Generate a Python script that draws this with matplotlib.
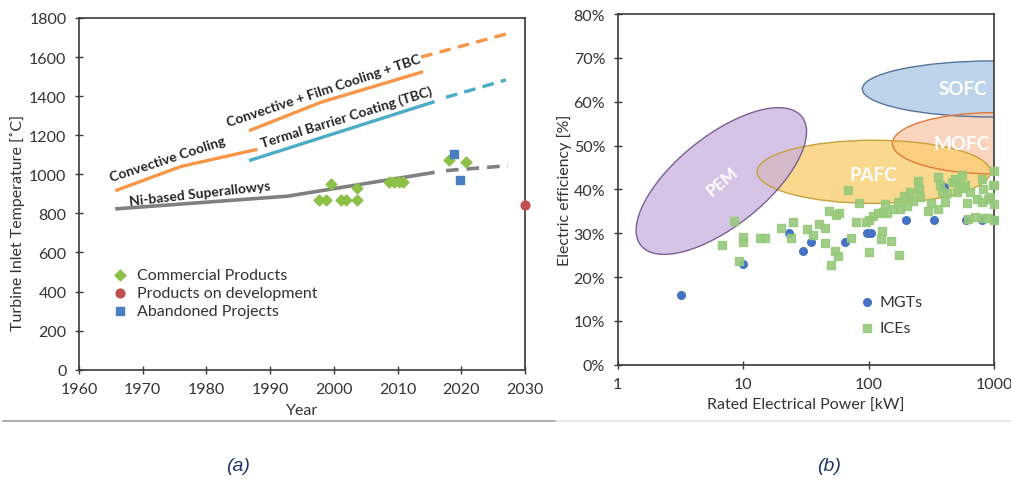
import numpy as np
import matplotlib
matplotlib.use("Agg")
import matplotlib.pyplot as plt
from matplotlib.patches import Ellipse
from matplotlib.lines import Line2D

plt.rcParams['font.family'] = ['Lato', 'DejaVu Sans']

# --- (a) turbine inlet temperature trends ---
conv_year = [1965.7, 1976, 1988]
conv_temp = [916, 1040, 1128]
film_year = [1986.7, 1998, 2014]
film_temp = [1223, 1369, 1525]
film_fut_year = [2013.7, 2027]
film_fut_temp = [1600, 1718]
tbc_year = [1986.7, 2015.8]
tbc_temp = [1070, 1372]
tbc_fut_year = [2017.6, 2027]
tbc_fut_temp = [1394, 1483]
ni_year = [1965.7, 1992.7, 2015.8]
ni_temp = [823, 888, 1010]
ni_fut_year = [2017.6, 2027.3]
ni_fut_temp = [1019, 1044]

comm_year = [1997.7, 1998.7, 1999.5, 2001.1, 2001.9, 2003.7, 2003.7,
             2008.7, 2009.5, 2010.3, 2010.8, 2018.0, 2020.8]
comm_temp = [870, 870, 951, 870, 870, 928, 870,
             959, 959, 959, 959, 1073, 1065]
dev_year = [2030]
dev_temp = [843]
aband_year = [2018.8, 2019.8]
aband_temp = [1104, 973]

# --- (b) efficiency vs rated power ---
mgt_kw = [3.2, 10, 23, 30, 35, 65, 98, 105, 200, 330, 400, 600, 800, 1000]
mgt_eff = [0.16, 0.23, 0.30, 0.26, 0.28, 0.28, 0.30, 0.30, 0.33, 0.33, 0.405,
           0.33, 0.33, 0.33]
ice_kw = [6.8, 8.5, 9.2, 10, 10, 13.5, 15, 20, 24, 25, 32.5, 36, 40, 45, 45,
          48, 50, 54, 55, 57, 58.5, 68, 72, 79, 84.5, 95, 100, 100, 108, 118,
          125, 127, 131, 135, 140, 150, 158, 173, 175, 178, 190, 202, 212,
          228, 250, 253, 258, 297, 315, 360, 360, 372, 384, 408, 420, 460,
          490, 505, 520, 553, 570, 589, 607, 625, 645, 700, 729, 800, 800,
          800, 824, 900, 902, 931, 990, 1000, 1000, 1000, 1000]
ice_eff = [0.273, 0.327, 0.237, 0.291, 0.279, 0.289, 0.289, 0.311, 0.29, 0.326,
           0.309, 0.295, 0.32, 0.311, 0.277, 0.351, 0.228, 0.26, 0.342, 0.249,
           0.345, 0.399, 0.29, 0.325, 0.368, 0.326, 0.257, 0.331, 0.34, 0.346,
           0.287, 0.306, 0.348, 0.367, 0.346, 0.283, 0.355, 0.371, 0.251,
           0.355, 0.384, 0.363, 0.395, 0.374, 0.42, 0.401, 0.382, 0.35, 0.369,
           0.355, 0.428, 0.409, 0.394, 0.371, 0.392, 0.416, 0.424, 0.394,
           0.413, 0.432, 0.403, 0.409, 0.369, 0.333, 0.394, 0.337, 0.378,
           0.334, 0.371, 0.424, 0.401, 0.334, 0.378, 0.382, 0.409, 0.443,
           0.41, 0.367, 0.33]

# fuel cell regions: name, centre kW, centre eff, width (decades), height, angle
fc_names = ['SOFC', 'MOFC', 'PAFC', 'PEM']
fc_kw = [1000, 1000, 110, 6.7]
fc_eff = [0.629, 0.505, 0.44, 0.419]
fc_width = [2.1, 1.62, 1.86, 1.378]
fc_height = [0.128, 0.14, 0.144, 0.2446]
fc_angle = [0, 0, 0, 9.7]
fc_face = ['#a9c6e4', '#f8c7a8', '#f9cd6a', '#c9b0df']
fc_edge = ['#56749a', '#e07a3a', '#c8a03a', '#7b5f92']
fc_label_kw = [568, 553, 110, 6.8]
fc_label_eff = [0.629, 0.504, 0.435, 0.42]
fc_label_rot = [0, 0, 0, 40]
fc_label_size = [13.5, 13.5, 13.5, 12]

fig = plt.figure(figsize=(10.11, 4.81), dpi=100)
ax1 = fig.add_axes([0.0781, 0.2293, 0.4412, 0.7312])
ax2 = fig.add_axes([0.611, 0.2397, 0.3722, 0.7291])

txt = '#333333'
orange = '#f79646'
cyan = '#4bacc6'
grey = '#808080'

ax1.plot(conv_year, conv_temp, color=orange, lw=2.4, solid_capstyle='butt')
ax1.plot(film_year, film_temp, color=orange, lw=2.4, solid_capstyle='butt')
ax1.plot(film_fut_year, film_fut_temp, color=orange, lw=2.4, dashes=(3.5, 2.2))
ax1.plot(tbc_year, tbc_temp, color=cyan, lw=2.4, solid_capstyle='butt')
ax1.plot(tbc_fut_year, tbc_fut_temp, color=cyan, lw=2.4, dashes=(3.5, 2.2))
ax1.plot(ni_year, ni_temp, color=grey, lw=2.6, solid_capstyle='butt')
ax1.plot(ni_fut_year, ni_fut_temp, color=grey, lw=2.6, dashes=(3.5, 2.2))

ax1.scatter(comm_year, comm_temp, marker='D', s=30, color='#8cc047',
            zorder=3, label='Commercial Products')
ax1.scatter(dev_year, dev_temp, marker='o', s=40, color='#c0504d',
            zorder=4, clip_on=False, label='Products on development')
ax1.scatter(aband_year, aband_temp, marker='s', s=28, color='#4a7fc1',
            zorder=3, label='Abandoned Projects')

lbl = dict(fontsize=10, fontweight='bold', color='#262626',
           ha='center', va='center', rotation_mode='anchor')
ax1.text(1973.9, 1080, 'Convective Cooling', rotation=18, **lbl)
ax1.text(1998.4, 1428, 'Convective + Film Cooling + TBC', rotation=18.4, **lbl)
ax1.text(2002, 1294, 'Termal Barrier Coating (TBC)', rotation=17.2, **lbl)
ax1.text(1979, 905, 'Ni-based Superallowys', rotation=6.4, **lbl)

ax1.set_xlim(1960, 2030)
ax1.set_ylim(0, 1800)
ax1.set_xticks(range(1960, 2031, 10))
ax1.set_yticks(range(0, 1801, 200))
ax1.set_xlabel('Year', fontsize=11.5, color=txt, labelpad=5)
ax1.set_ylabel('Turbine Inlet Temperature [˚C]', fontsize=11.5, color=txt)
ax1.yaxis.set_label_coords(-0.122, 0.42)
ax1.legend(loc='upper left', bbox_to_anchor=(0.07, 0.29), frameon=False,
           fontsize=11.5, labelcolor=txt, handlelength=1.2, handletextpad=0.5,
           labelspacing=0.25, borderpad=0, borderaxespad=0)

# efficiency plot on a log power axis
ax2.set_xscale('log')
ax2.set_xlim(1, 1000)
ax2.set_ylim(0, 0.8)
ell_tr = ax2.transLimits + ax2.transAxes
for i in range(len(fc_names)):
    e = Ellipse((np.log10(fc_kw[i]), fc_eff[i]), fc_width[i], fc_height[i],
                angle=fc_angle[i], transform=ell_tr, facecolor=fc_face[i],
                alpha=0.75, edgecolor='none', zorder=1)
    ax2.add_patch(e)
    e2 = Ellipse((np.log10(fc_kw[i]), fc_eff[i]), fc_width[i], fc_height[i],
                 angle=fc_angle[i], transform=ell_tr, facecolor='none',
                 edgecolor=fc_edge[i], lw=1.0, zorder=1.5)
    ax2.add_patch(e2)
    ax2.text(fc_label_kw[i], fc_label_eff[i], fc_names[i], color='white',
             fontsize=fc_label_size[i], fontweight='bold', ha='center',
             va='center', rotation=fc_label_rot[i], zorder=5)

ax2.scatter(mgt_kw, mgt_eff, marker='o', s=30, color='#4472c4', zorder=3,
            clip_on=False, label='MGTs')
ax2.scatter(ice_kw, ice_eff, marker='s', s=30, color='#97c97b', alpha=0.9,
            zorder=4, clip_on=False, label='ICEs')

ax2.set_xticks([1, 10, 100, 1000])
ax2.set_xticklabels(['1', '10', '100', '1000'])
ax2.xaxis.set_minor_locator(matplotlib.ticker.NullLocator())
ax2.set_yticks(np.arange(0, 0.81, 0.1))
ax2.yaxis.set_major_formatter(matplotlib.ticker.PercentFormatter(1.0, decimals=0))
ax2.set_xlabel('Rated Electrical Power [kW]', fontsize=11.5, color=txt, labelpad=5)
ax2.set_ylabel('Electric efficiency [%]', fontsize=11.5, color=txt)
ax2.yaxis.set_label_coords(-0.122, 0.5)
ax2.legend(loc='upper left', bbox_to_anchor=(0.64, 0.2), frameon=False,
           fontsize=11.5, labelcolor=txt, handlelength=1.0, handletextpad=0.3,
           labelspacing=0.75, borderpad=0, borderaxespad=0)

for ax in (ax1, ax2):
    for sp in ax.spines.values():
        sp.set_color('#3a3a3a')
        sp.set_linewidth(1.2)
    ax.tick_params(direction='inout', length=6, width=1, color='#3a3a3a',
                   labelsize=11.5, labelcolor=txt, pad=6)

# panel separator and captions
fig.add_artist(Line2D([0.003, 0.55], [0.122, 0.122], color='#a0a0a0', lw=1.2))
fig.add_artist(Line2D([0.55, 1.0], [0.122, 0.122], color='#e6e6e6', lw=1.2))
fig.text(0.235, 0.031, '(a)', fontsize=14, style='italic', color='#1f3864',
         family='Liberation Sans', ha='center', va='center')
fig.text(0.82, 0.031, '(b)', fontsize=14, style='italic', color='#1f3864',
         family='Liberation Sans', ha='center', va='center')

fig.savefig('out.png', dpi=100)
